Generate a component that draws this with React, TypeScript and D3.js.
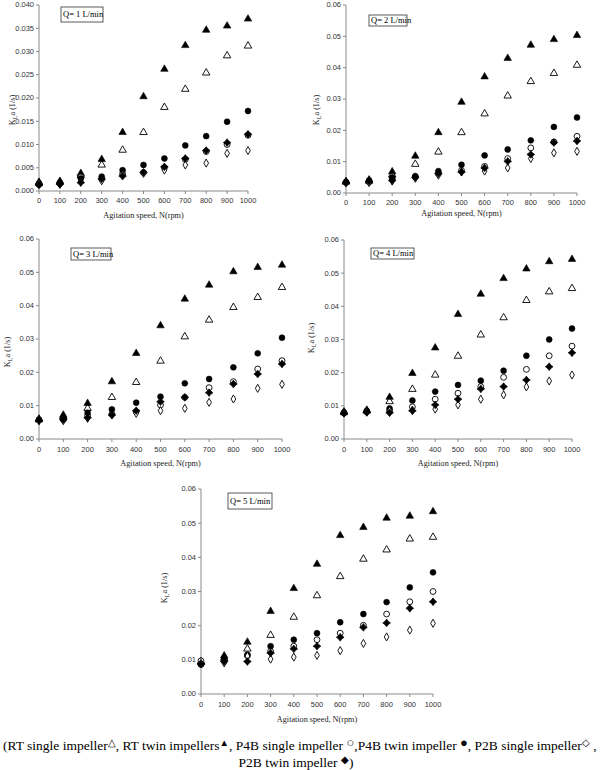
import React from 'react';
import * as d3 from 'd3';

const RPM = [0, 100, 200, 300, 400, 500, 600, 700, 800, 900, 1000];

// Q = 1 L/min
const Q1_RT_SINGLE = [0.0017, 0.0019, 0.0034, 0.0056, 0.0088, 0.0126, 0.018, 0.0219, 0.0254, 0.0291, 0.0312];
const Q1_RT_TWIN = [0.0019, 0.0021, 0.0038, 0.0068, 0.0126, 0.0203, 0.0262, 0.0313, 0.0346, 0.0355, 0.037];
const Q1_P4B_SINGLE = [0.0014, 0.0016, 0.003, 0.0026, 0.0037, 0.004, 0.005, 0.0068, 0.0085, 0.01, 0.012];
const Q1_P4B_TWIN = [0.0016, 0.0018, 0.0027, 0.0031, 0.0045, 0.0056, 0.007, 0.0098, 0.0118, 0.0149, 0.0172];
const Q1_P2B_SINGLE = [0.0015, 0.0014, 0.002, 0.0022, 0.0035, 0.0038, 0.0045, 0.0056, 0.006, 0.0081, 0.0087];
const Q1_P2B_TWIN = [0.0013, 0.0015, 0.0018, 0.0026, 0.0032, 0.004, 0.0052, 0.007, 0.0087, 0.0104, 0.0122];

// Q = 2 L/min
const Q2_RT_SINGLE = [0.0035, 0.0038, 0.0058, 0.0092, 0.0131, 0.0193, 0.0253, 0.031, 0.0356, 0.0382, 0.0408];
const Q2_RT_TWIN = [0.0037, 0.0042, 0.0068, 0.0118, 0.0193, 0.029, 0.0371, 0.043, 0.0472, 0.049, 0.0503];
const Q2_P4B_SINGLE = [0.0033, 0.0035, 0.0045, 0.0051, 0.0062, 0.0072, 0.0085, 0.011, 0.0144, 0.0163, 0.0181];
const Q2_P4B_TWIN = [0.0035, 0.004, 0.005, 0.0054, 0.007, 0.009, 0.012, 0.0139, 0.0168, 0.0211, 0.0241];
const Q2_P2B_SINGLE = [0.0032, 0.0033, 0.0038, 0.0047, 0.0057, 0.0067, 0.007, 0.008, 0.011, 0.0128, 0.0133];
const Q2_P2B_TWIN = [0.0034, 0.0037, 0.004, 0.005, 0.0062, 0.0067, 0.008, 0.0101, 0.0123, 0.0161, 0.0166];

// Q = 3 L/min
const Q3_RT_SINGLE = [0.0058, 0.0068, 0.0092, 0.0125, 0.017, 0.0234, 0.0307, 0.0357, 0.0395, 0.0425, 0.0455];
const Q3_RT_TWIN = [0.006, 0.0072, 0.0107, 0.0172, 0.0257, 0.034, 0.042, 0.0462, 0.0502, 0.0515, 0.0522];
const Q3_P4B_SINGLE = [0.0057, 0.0058, 0.007, 0.0075, 0.0082, 0.0102, 0.0125, 0.0154, 0.0172, 0.021, 0.0235];
const Q3_P4B_TWIN = [0.0058, 0.006, 0.0079, 0.0089, 0.0109, 0.0127, 0.0167, 0.018, 0.0215, 0.0257, 0.0304];
const Q3_P2B_SINGLE = [0.0055, 0.0055, 0.0062, 0.0072, 0.0077, 0.0085, 0.0092, 0.011, 0.012, 0.0152, 0.0164];
const Q3_P2B_TWIN = [0.0055, 0.0058, 0.0064, 0.0072, 0.0085, 0.0112, 0.0125, 0.0139, 0.0165, 0.0195, 0.0225];

// Q = 4 L/min
const Q4_RT_SINGLE = [0.008, 0.0085, 0.0113, 0.015, 0.0193, 0.025, 0.0314, 0.0366, 0.0418, 0.0444, 0.0454];
const Q4_RT_TWIN = [0.0082, 0.0087, 0.0126, 0.0198, 0.0275, 0.0376, 0.0437, 0.0484, 0.0513, 0.0535, 0.0542];
const Q4_P4B_SINGLE = [0.0078, 0.0082, 0.0085, 0.0097, 0.012, 0.0138, 0.0158, 0.0186, 0.021, 0.0251, 0.028];
const Q4_P4B_TWIN = [0.008, 0.0085, 0.0092, 0.0116, 0.0143, 0.0163, 0.0176, 0.0206, 0.0251, 0.03, 0.0333];
const Q4_P2B_SINGLE = [0.0078, 0.0082, 0.0085, 0.0087, 0.009, 0.0103, 0.012, 0.0133, 0.0157, 0.0175, 0.0193];
const Q4_P2B_TWIN = [0.0078, 0.008, 0.0079, 0.0085, 0.0103, 0.012, 0.0151, 0.0158, 0.0178, 0.0218, 0.026];

// Q = 5 L/min
const Q5_RT_SINGLE = [0.0095, 0.0105, 0.0132, 0.0172, 0.0225, 0.0288, 0.0344, 0.0395, 0.0422, 0.0454, 0.0459];
const Q5_RT_TWIN = [0.0092, 0.0112, 0.0152, 0.0242, 0.0309, 0.038, 0.0464, 0.0488, 0.0515, 0.0521, 0.0534];
const Q5_P4B_SINGLE = [0.0097, 0.0097, 0.0112, 0.0125, 0.014, 0.0159, 0.0178, 0.0201, 0.0234, 0.027, 0.03];
const Q5_P4B_TWIN = [0.0086, 0.0105, 0.0115, 0.014, 0.0159, 0.0178, 0.021, 0.0234, 0.0269, 0.0312, 0.0356];
const Q5_P2B_SINGLE = [0.009, 0.0091, 0.0111, 0.0102, 0.0108, 0.0113, 0.0127, 0.0148, 0.0167, 0.0187, 0.0207];
const Q5_P2B_TWIN = [0.0088, 0.0095, 0.0095, 0.012, 0.0132, 0.014, 0.0166, 0.0195, 0.0208, 0.0251, 0.027];

const PANEL_LABELS = ['Q= 1 L/min', 'Q= 2 L/min', 'Q= 3 L/min', 'Q= 4 L/min', 'Q= 5 L/min'];
const X_TICKS = [0, 100, 200, 300, 400, 500, 600, 700, 800, 900, 1000];
const X_TITLE = 'Agitation speed, N(rpm)';

type Kind = 'triOpen' | 'triFilled' | 'circOpen' | 'circFilled' | 'diaOpen' | 'starFilled';
const KINDS: Kind[] = ['triOpen', 'triFilled', 'circOpen', 'circFilled', 'diaOpen', 'starFilled'];

const PANEL_DATA = [
  [Q1_RT_SINGLE, Q1_RT_TWIN, Q1_P4B_SINGLE, Q1_P4B_TWIN, Q1_P2B_SINGLE, Q1_P2B_TWIN],
  [Q2_RT_SINGLE, Q2_RT_TWIN, Q2_P4B_SINGLE, Q2_P4B_TWIN, Q2_P2B_SINGLE, Q2_P2B_TWIN],
  [Q3_RT_SINGLE, Q3_RT_TWIN, Q3_P4B_SINGLE, Q3_P4B_TWIN, Q3_P2B_SINGLE, Q3_P2B_TWIN],
  [Q4_RT_SINGLE, Q4_RT_TWIN, Q4_P4B_SINGLE, Q4_P4B_TWIN, Q4_P2B_SINGLE, Q4_P2B_TWIN],
  [Q5_RT_SINGLE, Q5_RT_TWIN, Q5_P4B_SINGLE, Q5_P4B_TWIN, Q5_P2B_SINGLE, Q5_P2B_TWIN],
];

type Layout = {
  x0: number; x1: number; yB: number; yT: number;
  yMax: number; step: number; fmt: string;
  box: [number, number, number, number];
  ytX: number; ytY: number; xlY: number; xtY: number;
};

const LAYOUTS: Layout[] = [
  { x0: 39, x1: 248, yB: 191, yT: 5, yMax: 0.04, step: 0.005, fmt: '.3f', box: [61, 7, 42, 15], ytX: 15, ytY: 110, xlY: 203, xtY: 218 },
  { x0: 346, x1: 577, yB: 193, yT: 5, yMax: 0.06, step: 0.01, fmt: '.2f', box: [369, 15, 38, 11], ytX: 319, ytY: 110, xlY: 205, xtY: 216 },
  { x0: 39, x1: 282, yB: 439, yT: 239, yMax: 0.06, step: 0.01, fmt: '.2f', box: [71, 248, 40, 12], ytX: 10, ytY: 352, xlY: 452, xtY: 466 },
  { x0: 344, x1: 572, yB: 439, yT: 240, yMax: 0.06, step: 0.01, fmt: '.2f', box: [371, 248, 43, 11], ytX: 314, ytY: 338, xlY: 452, xtY: 466 },
  { x0: 201, x1: 433, yB: 694, yT: 489, yMax: 0.06, step: 0.01, fmt: '.2f', box: [228, 493, 44, 16], ytX: 167, ytY: 588, xlY: 707, xtY: 722 },
];

const AXIS = '#8a8a8a';
const SANS = "'Liberation Sans', Arial, sans-serif";
const SERIF = "'Liberation Serif', 'Times New Roman', serif";

function markerPath(kind: Kind): string {
  if (kind === 'triOpen' || kind === 'triFilled') return d3.symbol(d3.symbolTriangle, 24)() as string;
  if (kind === 'circOpen' || kind === 'circFilled') return d3.symbol(d3.symbolCircle, 27)() as string;
  if (kind === 'diaOpen') return d3.symbol(d3.symbolDiamond, 19)() as string;
  const r = 3.9, k = 1.7;
  const pts: [number, number][] = [[0, -r], [k, -k], [r, 0], [k, k], [0, r], [-k, k], [-r, 0], [-k, -k]];
  return d3.line()(pts.concat([pts[0]])) + 'Z';
}

function Marker({ kind, cx, cy }: { kind: Kind; cx: number; cy: number }) {
  const filled = kind === 'triFilled' || kind === 'circFilled' || kind === 'starFilled';
  return (
    <path
      d={markerPath(kind)}
      transform={`translate(${cx},${cy})`}
      fill={filled ? '#000' : '#fff'}
      stroke="#000"
      strokeWidth={filled ? 0.6 : 0.9}
    />
  );
}

function Panel({ idx }: { idx: number }) {
  const p = LAYOUTS[idx];
  const x = d3.scaleLinear().domain([0, 1000]).range([p.x0, p.x1]);
  const y = d3.scaleLinear().domain([0, p.yMax]).range([p.yB, p.yT]);
  const yTicks = d3.range(0, p.yMax + p.step / 2, p.step);
  const fmt = d3.format(p.fmt);
  const series = PANEL_DATA[idx];
  return (
    <g>
      <line x1={p.x0} x2={p.x0} y1={p.yB} y2={p.yT} stroke={AXIS} strokeWidth={1} />
      {yTicks.map((t, i) => (
        <g key={'y' + i}>
          <line x1={p.x0 - 3} x2={p.x0} y1={y(t)} y2={y(t)} stroke={AXIS} strokeWidth={1} />
          <text x={p.x0 - 5} y={y(t)} dy="0.33em" textAnchor="end" fontFamily={SANS} fontSize={7.5} fill="#333">
            {fmt(t)}
          </text>
        </g>
      ))}
      <line x1={p.x0} x2={p.x1} y1={p.yB} y2={p.yB} stroke={AXIS} strokeWidth={1} />
      {X_TICKS.map((t) => (
        <g key={'x' + t}>
          <line x1={x(t)} x2={x(t)} y1={p.yB} y2={p.yB + 3} stroke={AXIS} strokeWidth={1} />
          <text x={x(t)} y={p.xlY} textAnchor="middle" fontFamily={SANS} fontSize={7.5} fill="#333">
            {t}
          </text>
        </g>
      ))}
      <text x={(p.x0 + p.x1) / 2} y={p.xtY} textAnchor="middle" fontFamily={SERIF} fontSize={8.2} fill="#222">
        {X_TITLE}
      </text>
      <text
        transform={`translate(${p.ytX},${p.ytY}) rotate(-90)`}
        textAnchor="middle"
        fontFamily={SERIF}
        fontSize={8.2}
        fill="#222"
      >
        K<tspan fontSize={6} dy={2}>L</tspan>
        <tspan dy={-2}>a (1/s)</tspan>
      </text>
      <rect x={p.box[0]} y={p.box[1]} width={p.box[2]} height={p.box[3]} fill="#fff" stroke="#333" strokeWidth={0.8} />
      <text
        x={p.box[0] + 2}
        y={p.box[1] + p.box[3] / 2}
        dy="0.35em"
        fontFamily={SERIF}
        fontSize={8.5}
        fill="#000"
      >
        {PANEL_LABELS[idx]}
      </text>
      {series.map((vals, si) =>
        vals.map((v, i) => <Marker key={si + '-' + i} kind={KINDS[si]} cx={x(RPM[i])} cy={y(v)} />)
      )}
    </g>
  );
}

export default function App() {
  return (
    <svg
      width={600}
      height={770}
      viewBox="0 0 600 770"
      style={{ position: 'absolute', left: 0, top: 0, background: '#fff' }}
    >
      <rect x={0} y={0} width={600} height={770} fill="#fff" />
      {LAYOUTS.map((_, i) => (
        <Panel key={i} idx={i} />
      ))}
      <text x={3} y={750} fontFamily={SERIF} fontSize={13.5} fill="#000">
        (RT single impeller<tspan fontSize={9.5} dy={-4}>△</tspan>
        <tspan dy={4}>, RT twin impellers</tspan>
        <tspan fontSize={9.5} dy={-4}>▲</tspan>
        <tspan dy={4}>, P4B single impeller </tspan>
        <tspan fontSize={13} dy={-3}>○</tspan>
        <tspan dy={3}>,P4B twin impeller </tspan>
        <tspan fontSize={13} dy={-3}>●</tspan>
        <tspan dy={3}>, P2B single impeller</tspan>
        <tspan fontSize={9.5} dy={-4}>◇</tspan>
        <tspan dy={4}>  ,</tspan>
      </text>
      <text x={296} y={767} textAnchor="middle" fontFamily={SERIF} fontSize={13.5} fill="#000">
        P2B twin impeller <tspan fontSize={9.5} dy={-4}>◆</tspan>
        <tspan dy={4}>)</tspan>
      </text>
    </svg>
  );
}
